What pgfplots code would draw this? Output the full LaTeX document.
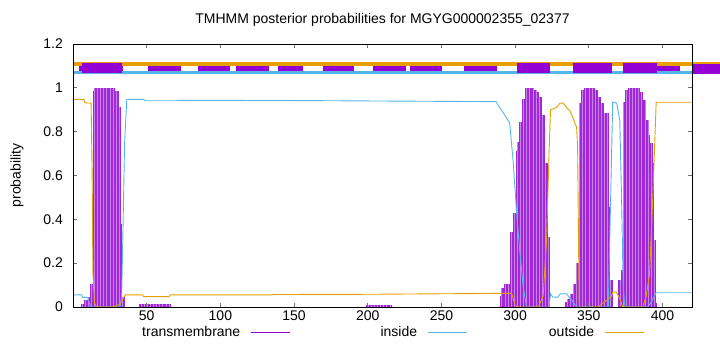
\documentclass[border=0pt]{standalone}
\usepackage{pgfplots}
\usepackage{pgfplotstable}
\pgfplotsset{compat=1.18}
\usepackage{fontspec}
\setmainfont{Liberation Sans}
\definecolor{tmc}{HTML}{9400D3}
\definecolor{inc}{HTML}{56B4E9}
\definecolor{outc}{HTML}{E69F00}
\pgfplotstableread{
x y
6 0.014
7 0.014
8 0.03
9 0.03
10 0.03
11 0.047
12 0.105
13 0.105
14 0.985
15 1.0
16 1.0
17 1.0
18 1.0
19 1.0
20 1.0
21 1.0
22 1.0
23 1.0
24 1.0
25 1.0
26 1.0
27 1.0
28 1.0
29 0.985
30 0.985
31 0.985
32 0.914
33 0.38
34 0.047
35 0.047
45 0.012
46 0.012
47 0.012
48 0.012
49 0.012
50 0.012
51 0.012
52 0.012
53 0.012
54 0.012
55 0.012
56 0.012
57 0.012
58 0.012
59 0.012
60 0.012
61 0.012
62 0.012
63 0.012
64 0.012
65 0.012
66 0.012
199 0.01
200 0.01
201 0.01
202 0.01
203 0.01
204 0.01
205 0.01
206 0.01
207 0.01
208 0.01
209 0.01
210 0.01
211 0.01
212 0.01
213 0.01
214 0.01
215 0.01
216 0.01
290 0.05
291 0.085
292 0.085
293 0.105
294 0.105
295 0.107
296 0.107
297 0.34
298 0.34
299 0.43
300 0.43
301 0.71
302 0.754
303 0.845
304 0.845
305 0.95
306 0.95
307 1.0
308 1.0
309 1.0
310 1.0
311 1.0
312 1.0
313 0.99
314 0.99
315 0.98
316 0.98
317 0.96
318 0.96
319 0.876
320 0.876
321 0.655
322 0.655
323 0.32
334 0.024
335 0.024
336 0.037
337 0.037
338 0.06
339 0.06
340 0.107
341 0.107
342 0.2
343 0.2
344 0.93
345 0.99
346 0.99
347 1.0
348 1.0
349 1.0
350 1.0
351 1.0
352 1.0
353 1.0
354 1.0
355 0.99
356 0.99
357 0.96
358 0.96
359 0.93
360 0.93
361 0.885
362 0.885
363 0.885
364 0.457
365 0.123
366 0.123
370 0.123
371 0.123
372 0.17
373 0.17
374 0.937
375 0.99
376 0.99
377 1.0
378 1.0
379 1.0
380 1.0
381 1.0
382 1.0
383 1.0
384 1.0
385 0.98
386 0.98
387 0.945
388 0.945
389 0.853
390 0.853
391 0.785
392 0.748
393 0.748
394 0.657
395 0.306
396 0.02
}\tmtable
\begin{document}
\begin{tikzpicture}
\path[use as bounding box] (-73bp,-45bp) rectangle (647bp,307bp);
\begin{axis}[
  at={(0,0)}, anchor=south west,
  scale only axis, width=619bp, height=263bp,
  xmin=0, xmax=420, ymin=0, ymax=1.2,
  clip=false, axis on top,
  font=\fontsize{14bp}{16bp}\selectfont,
  /pgf/number format/assume math mode=true,
  xtick={50,100,...,400}, ytick={0,0.2,...,1.2},
  yticklabels={0,0.2,0.4,0.6,0.8,1,1.2},
  tick align=inside, major tick length=4bp,
  tick style={black!55, line width=0.8bp},
  axis line style={black, line width=0.9bp},
  xticklabel style={anchor=north, inner sep=0pt, yshift=-4bp},
  yticklabel style={anchor=east, inner sep=0pt, xshift=-10bp},
  title={TMHMM posterior probabilities for MGYG000002355\_02377},
  title style={at={(axis description cs:0.5,1)}, anchor=center, yshift=18bp},
  ylabel={probability},
  ylabel style={at={(axis description cs:-0.0905,0.5)}, anchor=center},
  legend plot pos=right,
  legend columns=3,
  legend style={at={(axis description cs:0.068,-0.095)}, anchor=west,
    draw=none, fill=none, inner sep=0pt, nodes={inner sep=0pt},
    /tikz/every odd column/.append style={column sep=10bp},
    /tikz/every even column/.append style={column sep=2bp}},
]
% top annotation bars
\addplot[forget plot, outc, line width=3.5bp, line cap=butt] coordinates {(0,1.1086) (439,1.1086)};
\addplot[forget plot, inc, line width=3bp, line cap=butt] coordinates {(0,1.0698) (420,1.0698)};
\addplot[forget plot, tmc, line width=5bp, line cap=butt, unbounded coords=jump] coordinates {
(4.1,1.0903) (33.9,1.0903) (nan,nan)
(50.9,1.0903) (73.3,1.0903) (nan,nan)
(84.8,1.0903) (106.5,1.0903) (nan,nan)
(110.6,1.0903) (133,1.0903) (nan,nan)
(139,1.0903) (156,1.0903) (nan,nan)
(169.6,1.0903) (190.6,1.0903) (nan,nan)
(203.5,1.0903) (225.9,1.0903) (nan,nan)
(228.6,1.0903) (250.3,1.0903) (nan,nan)
(265.3,1.0903) (287.7,1.0903) (nan,nan)
(396.2,1.0903) (411.8,1.0903)
};
\addplot[forget plot, tmc, line width=10bp, line cap=butt, unbounded coords=jump] coordinates {
(6.1,1.0903) (33.2,1.0903) (nan,nan)
(301.2,1.0903) (323.6,1.0903) (nan,nan)
(339.2,1.0903) (365.7,1.0903) (nan,nan)
(373.1,1.0903) (396.2,1.0903) (nan,nan)
(420,1.088) (439,1.088)
};
% transmembrane impulses: light body + darker stripes
\addplot[forget plot, ycomb, draw={rgb,255:red,200;green,130;blue,235}, line width=1.5bp, no markers] table {\tmtable};
\addplot[ycomb, draw={rgb,255:red,160;green,40;blue,215}, line width=0.75bp, no markers,
  legend image code/.code={\draw[tmc, line width=0.9bp] (0bp,0bp) -- (39bp,0bp);}] table {\tmtable};
\addlegendentry{\makebox[125bp][r]{transmembrane}}
% inside
\addplot[inc, line width=0.9bp, no markers,
  legend image code/.code={\draw[inc, line width=0.9bp] (0bp,0bp) -- (39bp,0bp);}] table {
x y
0 0.055
6 0.055
6.5 0.044
10 0.044
11 0.02
12 0
32 0
33 0.05
34 0.38
35 0.75
36.5 0.947
48 0.947
49 0.941
70 0.941
71 0.943
150 0.942
287 0.937
290 0.905
292 0.885
296.3 0.84
298.7 0.66
301 0.43
303.2 0.25
305.5 0.09
307.7 0
323 0
324 0.06
325.5 0.045
329 0.045
330.5 0.06
335 0.06
338.5 0.03
341.7 0
363.2 0
364.8 0.5
366.2 0.935
368.9 0.93
371 0.85
372.2 0.5
373.3 0.1
374.4 0
390 0
393 0.03
395.7 0.065
420 0.065
};
\addlegendentry{\makebox[125bp][r]{inside}}
% outside
\addplot[outc, line width=0.9bp, no markers,
  legend image code/.code={\draw[outc, line width=0.9bp] (0bp,0bp) -- (39bp,0bp);}] table {
x y
0 0.947
7.5 0.947
8 0.932
12.3 0.93
13 0.6
13.5 0.16
14.5 0.02
16 0
27 0
31 0.01
33 0.025
34.5 0.045
35.5 0.055
47 0.055
48 0.047
65 0.047
66 0.055
135 0.055
136 0.057
200 0.058
287 0.062
297.6 0.062
299 0.03
301 0
315.7 0
319 0.05
321.3 0.3
323 0.7
324 0.9
328 0.91
330.4 0.93
332.6 0.93
334.9 0.91
337.2 0.895
339.4 0.86
341.7 0.82
342.4 0.73
343 0.3
343.5 0
356.4 0
362 0.03
365.4 0.05
366.3 0.068
368.6 0.068
370.9 0.04
373.1 0
386.7 0
388.9 0.05
391.2 0.15
393.4 0.5
395.7 0.934
420 0.934
};
\addlegendentry{\makebox[125bp][r]{outside}}
\end{axis}
\end{tikzpicture}
\end{document}
